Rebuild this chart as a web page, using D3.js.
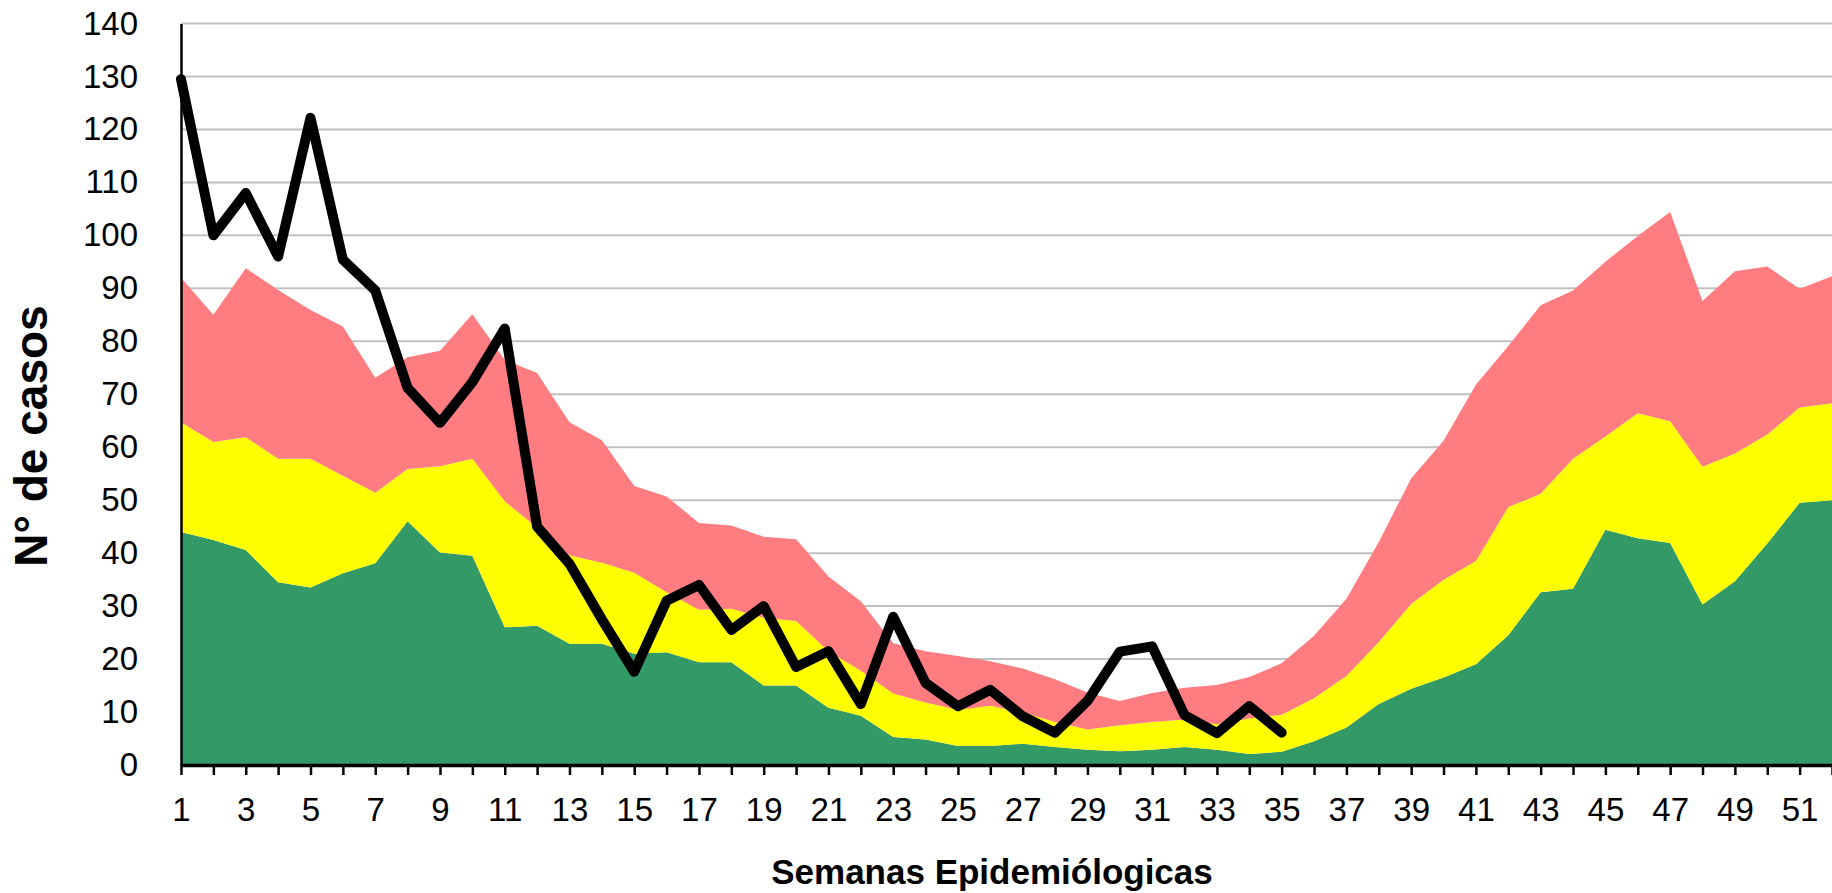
<!DOCTYPE html>
<html>
<head>
<meta charset="utf-8">
<script src="https://cdn.jsdelivr.net/npm/d3@7"></script>
<style>
  html, body { margin: 0; padding: 0; background: #fff; }
  svg { display: block; }
  text { font-family: Arial, "Liberation Sans", sans-serif; fill: #000; }
</style>
</head>
<body>
<svg id="chart" width="1832" height="893"></svg>
<script>
// ---- data ----
const weeks = d3.range(1, 53);
const xTickLabels = d3.range(1, 53, 2);
const yTicks = d3.range(0, 141, 10);

// Upper limit of the success zone (green)
const exito = [44, 42.5, 40.6, 34.5, 33.5, 36.2, 38.1, 46, 40.1, 39.5,
  26, 26.3, 22.9, 22.9, 21, 21.3, 19.4, 19.4, 15, 15,
  10.8, 9.3, 5.3, 4.8, 3.6, 3.6, 4, 3.4, 2.9, 2.6,
  2.9, 3.4, 2.9, 2.1, 2.5, 4.5, 7.1, 11.5, 14.4, 16.5,
  19, 24.5, 32.6, 33.3, 44.4, 42.8, 41.9, 30.3, 34.7, 41.8,
  49.5, 50];
// Upper limit of the security zone (yellow)
const seguridad = [64.7, 61, 61.9, 57.8, 57.8, 54.6, 51.4, 55.9, 56.4, 57.8,
  49.8, 44.8, 39.6, 38.2, 36.3, 32.6, 29.3, 29.5, 27.8, 27.2,
  21.5, 17.8, 13.5, 11.8, 10.4, 11.2, 9.9, 8.1, 6.7, 7.5,
  8.1, 8.6, 7.7, 8.8, 9.5, 12.6, 16.8, 23.2, 30.4, 35,
  38.5, 48.7, 51.2, 57.8, 62, 66.4, 64.9, 56.3, 58.8, 62.4,
  67.5, 68.3];
// Upper limit of the alarm zone (red)
const alerta = [92, 85, 93.8, 89.7, 85.9, 82.8, 73.1, 77, 78.2, 85.1,
  76.5, 74, 64.7, 61.3, 52.7, 50.7, 45.7, 45.2, 43.1, 42.6,
  35.6, 30.9, 23, 21.5, 20.6, 19.6, 18.2, 16.2, 13.7, 12.1,
  13.6, 14.6, 15.1, 16.6, 19.2, 24.4, 31.4, 42.1, 54.1, 61.2,
  71.8, 79.1, 86.8, 89.6, 95, 99.9, 104.4, 87.6, 93.2, 94.1,
  89.9, 92.3];
// Observed cases (weeks 1-35)
const casos = [129.5, 100, 108, 96, 122.2, 95.4, 89.6, 71.2, 64.6, 72.3,
  82.4, 45, 38, 27.5, 17.6, 31, 34, 25.5, 30, 18.5,
  21.5, 11.5, 28, 15.5, 11.1, 14.2, 9.2, 6.1, 12.1, 21.4,
  22.4, 9.4, 6, 11.1, 6.1];

// ---- layout ----
const svg = d3.select("#chart");
const x = d3.scaleLinear().domain([1, 52]).range([181, 1832]);
const y = d3.scaleLinear().domain([0, 140]).range([765, 23.5]);

// gridlines
svg.append("g").selectAll("line").data(yTicks.filter(d => d > 0)).join("line")
  .attr("x1", x(1)).attr("x2", 1832)
  .attr("y1", d => y(d)).attr("y2", d => y(d))
  .attr("stroke", "#c0c0c0").attr("stroke-width", 2);

// areas
const bands = [
  { lo: weeks.map(() => 0), hi: exito, color: "#339966" },
  { lo: exito, hi: seguridad, color: "#ffff00" },
  { lo: seguridad, hi: alerta, color: "#ff7c80" }
];
bands.forEach(b => {
  const area = d3.area()
    .x((d, i) => x(weeks[i]))
    .y0((d, i) => y(b.lo[i]))
    .y1((d, i) => y(b.hi[i]));
  svg.append("path").datum(b.hi).attr("d", area).attr("fill", b.color);
});

// y axis
const yAxis = d3.axisLeft(y).tickValues(yTicks).tickSize(0).tickPadding(43);
const gy = svg.append("g").attr("transform", `translate(${x(1)},0)`).call(yAxis);
gy.select(".domain").attr("stroke", "#000").attr("stroke-width", 2.5);
gy.selectAll("text").attr("font-size", 33).attr("font-family", "Arial, 'Liberation Sans', sans-serif");

// x axis
const xAxis = d3.axisBottom(x).tickValues(weeks).tickSize(10).tickSizeOuter(0)
  .tickFormat(d => (xTickLabels.includes(d) ? d : ""));
const gx = svg.append("g").attr("transform", `translate(0,${y(0)})`).call(xAxis);
gx.select(".domain").attr("stroke", "#000").attr("stroke-width", 3.5);
gx.selectAll(".tick line").attr("stroke", "#000").attr("stroke-width", 2.5);
gx.selectAll("text").attr("font-size", 33).attr("dy", 0).attr("y", 56)
  .attr("font-family", "Arial, 'Liberation Sans', sans-serif");

// cases line
const line = d3.line().x((d, i) => x(weeks[i])).y(d => y(d));
svg.append("path").datum(casos).attr("d", line)
  .attr("fill", "none").attr("stroke", "#000").attr("stroke-width", 10)
  .attr("stroke-linejoin", "round").attr("stroke-linecap", "round");

// axis titles
svg.append("text")
  .attr("transform", `translate(47,436) rotate(-90)`)
  .attr("text-anchor", "middle")
  .attr("font-size", 46).attr("font-weight", "bold")
  .text("N° de casos");

svg.append("text")
  .attr("x", 992).attr("y", 884)
  .attr("text-anchor", "middle")
  .attr("font-size", 35).attr("font-weight", "bold")
  .text("Semanas Epidemiólogicas");
</script>
</body>
</html>
